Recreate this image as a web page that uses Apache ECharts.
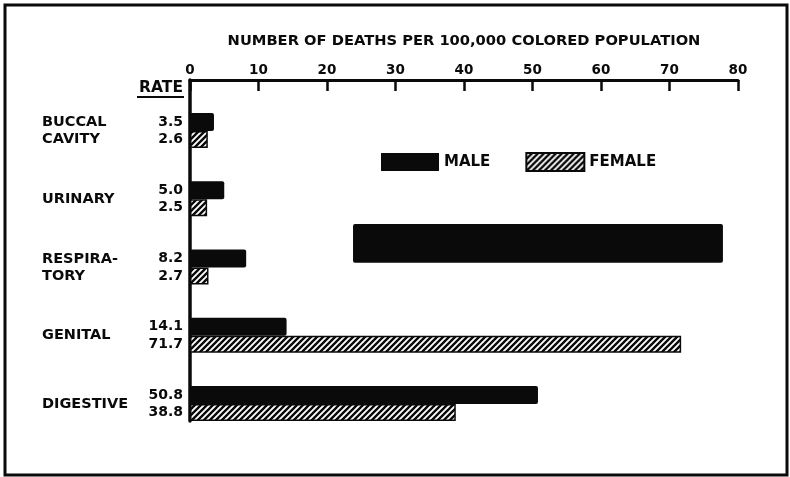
<!DOCTYPE html>
<html>
<head>
<meta charset="utf-8">
<script src="https://cdn.jsdelivr.net/npm/echarts@6/dist/echarts.min.js"></script>
<style>
  html, body { margin: 0; padding: 0; background: #fff; }
  #chart { width: 790px; height: 477px; }
</style>
</head>
<body>
<div id="chart"></div>
<script>
// data
const causes = ['BUCCAL\nCAVITY', 'URINARY', 'RESPIRA-\nTORY', 'GENITAL', 'DIGESTIVE']
const male = [3.5, 5.0, 8.2, 14.1, 50.8]
const female = [2.6, 2.5, 2.7, 71.7, 38.8]
const xTicks = [0, 80, 10]
// the ink blot across the respiratory row of the scan (start, end value)
const blot = [[23.8, 77.8]]

const FONT = 'DejaVu Sans'
const INK = '#0a0a0a'

// diagonal hatch for the female bars
const hatch = document.createElement('canvas')
hatch.width = 6
hatch.height = 6
const ctx = hatch.getContext('2d')
ctx.fillStyle = '#fff'
ctx.fillRect(0, 0, 6, 6)
ctx.strokeStyle = INK
ctx.lineWidth = 2.4
ctx.beginPath()
ctx.moveTo(-1, 7); ctx.lineTo(7, -1)
ctx.moveTo(-4, 4); ctx.lineTo(4, -4)
ctx.moveTo(2, 10); ctx.lineTo(10, 2)
ctx.stroke()

const chart = echarts.init(document.getElementById('chart'))

const rateLabel = {
  show: true,
  position: 'left',
  distance: 7,
  color: INK,
  fontFamily: FONT,
  fontWeight: 'bold',
  fontSize: 14,
  formatter: p => p.value.toFixed(1)
}

chart.setOption({
  backgroundColor: '#fff',
  animation: false,
  grid: {
    left: 190,
    right: 52,
    top: 80,
    bottom: 56
  },
  legend: {
    data: ['MALE', 'FEMALE'],
    left: 381,
    top: 152,
    padding: 0,
    icon: 'rect',
    itemWidth: 58,
    itemHeight: 18,
    itemGap: 35,
    textStyle: {
      color: INK,
      fontFamily: FONT,
      fontWeight: 'bold',
      fontSize: 15
    }
  },
  xAxis: {
    type: 'value',
    position: 'top',
    min: xTicks[0],
    max: xTicks[1],
    interval: xTicks[2],
    name: 'NUMBER OF DEATHS PER 100,000 COLORED POPULATION',
    nameLocation: 'middle',
    nameGap: 31,
    nameTextStyle: {
      color: INK,
      fontFamily: FONT,
      fontWeight: 'bold',
      fontSize: 14.7
    },
    axisLine: { show: true, lineStyle: { color: INK, width: 3 } },
    axisTick: { show: true, inside: true, length: 11, lineStyle: { color: INK, width: 2.5 } },
    axisLabel: {
      margin: 3,
      color: INK,
      fontFamily: FONT,
      fontWeight: 'bold',
      fontSize: 13.5
    },
    splitLine: { show: false }
  },
  yAxis: {
    type: 'category',
    inverse: true,
    data: causes,
    axisLine: { show: true, lineStyle: { color: INK, width: 3.5 } },
    axisTick: { show: false },
    axisLabel: {
      align: 'left',
      margin: 148,
      lineHeight: 17,
      color: INK,
      fontFamily: FONT,
      fontWeight: 'bold',
      fontSize: 14.5,
      // two blank lines push the name down beside the bar pair
      formatter: v => '\n\n' + v
    }
  },
  series: [
    {
      // empty slot so the pair sits in the lower part of each band
      name: 'spacer',
      type: 'bar',
      barWidth: 33,
      barGap: 0,
      data: causes.map(() => null)
    },
    {
      name: 'MALE',
      type: 'bar',
      barWidth: 18,
      barGap: 0,
      itemStyle: { color: INK, borderRadius: 2 },
      label: rateLabel,
      data: male
    },
    {
      name: 'FEMALE',
      type: 'bar',
      barWidth: 17,
      barGap: 0,
      itemStyle: {
        color: { image: hatch, repeat: 'repeat' },
        borderColor: INK,
        borderWidth: 1.5
      },
      label: rateLabel,
      data: female
    },
    {
      name: 'blot',
      type: 'custom',
      silent: true,
      renderItem: (params, api) => {
        const a = api.coord([api.value(0), 2])
        const b = api.coord([api.value(1), 2])
        const band = api.size([0, 1])[1]
        return {
          type: 'rect',
          shape: { x: a[0], y: a[1] - band * 0.39, width: b[0] - a[0], height: band * 0.57, r: 2 },
          style: { fill: INK }
        }
      },
      data: blot
    }
  ],
  graphic: [
    {
      type: 'rect',
      shape: { x: 5, y: 5, width: 782, height: 470 },
      style: { fill: 'none', stroke: INK, lineWidth: 3 },
      silent: true
    },
    {
      type: 'text',
      x: 183,
      y: 88,
      style: {
        text: 'RATE',
        align: 'right',
        verticalAlign: 'middle',
        fill: INK,
        font: 'bold 15.5px "DejaVu Sans"'
      }
    },
    {
      type: 'line',
      shape: { x1: 137, y1: 97, x2: 184, y2: 97 },
      style: { stroke: INK, lineWidth: 2 }
    }
  ]
})
</script>
</body>
</html>
